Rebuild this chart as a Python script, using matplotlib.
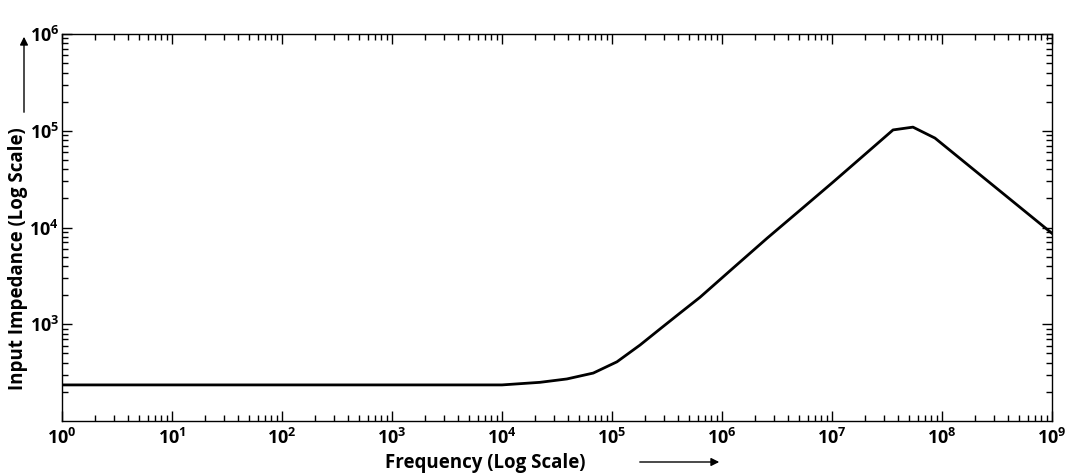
import numpy as np
import matplotlib
matplotlib.use("Agg")
from matplotlib import pyplot as plt
from matplotlib import ticker

plt.rcParams['font.family'] = ['Open Sans', 'DejaVu Sans']
plt.rcParams['font.weight'] = 'bold'
plt.rcParams['mathtext.fontset'] = 'custom'
plt.rcParams['mathtext.bf'] = 'Open Sans:bold'
plt.rcParams['mathtext.rm'] = 'Open Sans:bold'

# 读取自图片的数据 (log10 频率, 阻抗)
log_freq = [0.0, 4.0, 4.345, 4.59, 4.83, 5.045, 5.255, 5.44, 5.62, 5.8, 6.1,
            6.41, 6.71, 7.01, 7.255, 7.555, 7.736, 7.936, 9.0]
impedance = [236, 236, 251, 272, 313, 409, 610, 900, 1310, 1900, 3800,
             7750, 15100, 29500, 51500, 102000, 109000, 84000, 8700]
freq = [10 ** v for v in log_freq]

x_ticks = [10 ** k for k in range(0, 10)]
y_ticks = [10 ** k for k in range(3, 7)]

fig = plt.figure(figsize=(10.81, 4.76), dpi=100)
ax = fig.add_axes([62 / 1081, 1 - 421 / 476, 990 / 1081, 387 / 476])

ax.plot(freq, impedance, color='black', lw=2.0)

ax.set_xscale('log')
ax.set_yscale('log')
ax.set_xlim(1, 1e9)
ax.set_ylim(100, 1e6)

fmt = ticker.FuncFormatter(lambda v, p: r'$\mathbf{10^{%d}}$' % round(np.log10(v)))
ax.xaxis.set_major_locator(ticker.FixedLocator(x_ticks))
ax.yaxis.set_major_locator(ticker.FixedLocator(y_ticks))
ax.xaxis.set_major_formatter(fmt)
ax.yaxis.set_major_formatter(fmt)
ax.xaxis.set_minor_locator(ticker.LogLocator(base=10, subs=np.arange(2, 10), numticks=20))
ax.yaxis.set_minor_locator(ticker.LogLocator(base=10, subs=np.arange(2, 10), numticks=20))
ax.xaxis.set_minor_formatter(ticker.NullFormatter())
ax.yaxis.set_minor_formatter(ticker.NullFormatter())

ax.tick_params(which='both', direction='in', top=True, right=True, width=1.0, labelsize=13)
ax.tick_params(which='major', length=7)
ax.tick_params(which='minor', length=4)
ax.tick_params(axis='x', pad=5)
ax.tick_params(axis='y', pad=2)
for s in ax.spines.values():
    s.set_linewidth(1.0)

# 坐标轴标题
fig.text(385 / 1081, 1 - 463 / 476, 'Frequency (Log Scale)', fontsize=13.5,
         fontweight='bold', ha='left', va='center')
fig.text(18 / 1081, 1 - 259 / 476, 'Input Impedance (Log Scale)', fontsize=13.5,
         fontweight='bold', rotation=90, ha='center', va='center')

# 箭头
arrow = dict(arrowstyle='-|>', color='black', lw=1.0, mutation_scale=12)
ax.annotate('', xy=(722 / 1081, 1 - 462 / 476), xytext=(637 / 1081, 1 - 462 / 476),
            xycoords='figure fraction', textcoords='figure fraction', arrowprops=arrow,
            annotation_clip=False)
ax.annotate('', xy=(24 / 1081, 1 - 34 / 476), xytext=(24 / 1081, 1 - 115 / 476),
            xycoords='figure fraction', textcoords='figure fraction', arrowprops=arrow,
            annotation_clip=False)

plt.savefig('out.png', dpi=100)
